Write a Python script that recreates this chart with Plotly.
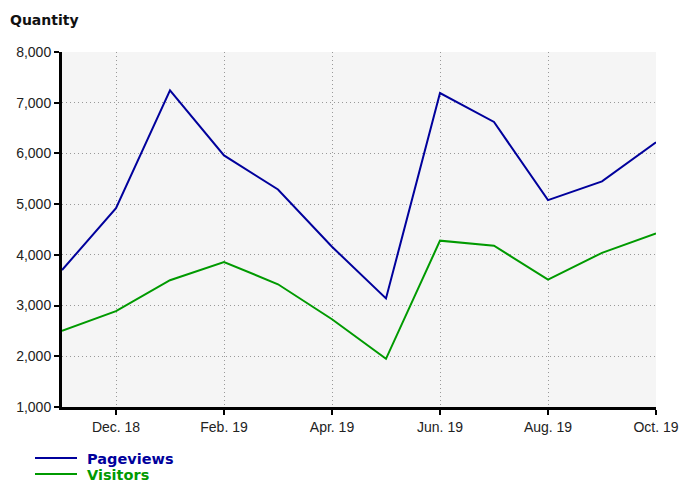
import plotly.graph_objects as go

months = ["Nov. 18", "Dec. 18", "Jan. 19", "Feb. 19", "Mar. 19", "Apr. 19",
          "May. 19", "Jun. 19", "Jul. 19", "Aug. 19", "Sep. 19", "Oct. 19"]
pageviews = [3700, 4920, 7245, 5960, 5290, 4160, 3140, 7190, 6620, 5080, 5450, 6220]
visitors = [2500, 2890, 3500, 3860, 3420, 2730, 1950, 4280, 4180, 3510, 4040, 4420]
tick_idx = [1, 3, 5, 7, 9, 11]
y_ticks = [1000, 2000, 3000, 4000, 5000, 6000, 7000, 8000]

blue = "#00009c"
green = "#009a00"
x = list(range(len(months)))

fig = go.Figure()
fig.add_trace(go.Scatter(x=x, y=pageviews, mode="lines",
                         line=dict(color=blue, width=2), legend="legend",
                         name=f"<span style='color:{blue}'><b>&nbsp;Pageviews</b></span>"))
fig.add_trace(go.Scatter(x=x, y=visitors, mode="lines",
                         line=dict(color=green, width=2), legend="legend2",
                         name=f"<span style='color:{green}'><b>&nbsp;Visitors</b></span>"))

leg_common = dict(xref="paper", yref="paper", xanchor="left", yanchor="middle",
                  font=dict(family="DejaVu Sans, Verdana, sans-serif", size=14.5),
                  bgcolor="rgba(0,0,0,0)", itemwidth=42, borderwidth=0)
plot_h = 481 - 52 - 74
def py(px):
    return (407 - px) / plot_h

fig.update_layout(
    width=680, height=481,
    margin=dict(l=62, r=24, t=52, b=74, autoexpand=False),
    paper_bgcolor="white",
    plot_bgcolor="#f5f5f5",
    font=dict(family="Liberation Sans, Arial, sans-serif", size=14, color="#222"),
    title=dict(text="<b>Quantity</b>", xref="container", yref="container",
               x=10/680, xanchor="left", y=1-20/481, yanchor="middle",
               font=dict(family="DejaVu Sans, Verdana, sans-serif", size=14, color="#111")),
    showlegend=True,
    legend=dict(x=(30-62)/594, y=py(458), **leg_common),
    legend2=dict(x=(30-62)/594, y=py(474), **leg_common),
)
fig.update_xaxes(range=[0, 11], tickmode="array", tickvals=tick_idx,
                 ticktext=[months[i] for i in tick_idx],
                 showgrid=True, gridcolor="#999", griddash="1px,3px", gridwidth=1,
                 showline=True, linecolor="black", linewidth=3,
                 ticks="outside", ticklen=5, tickcolor="black", tickwidth=1.5,
                 zeroline=False, fixedrange=True)
fig.update_yaxes(range=[1000, 8000], tickmode="array", tickvals=y_ticks,
                 tickformat=",", showgrid=True, gridcolor="#999", griddash="1px,3px",
                 gridwidth=1, showline=True, linecolor="black", linewidth=3,
                 ticks="outside", ticklen=5, tickcolor="black", tickwidth=1.5,
                 zeroline=False, fixedrange=True)

fig.write_html("out.html", config={"displayModeBar": False},
               post_script="document.body.style.margin='0';document.body.style.overflow='hidden';")
